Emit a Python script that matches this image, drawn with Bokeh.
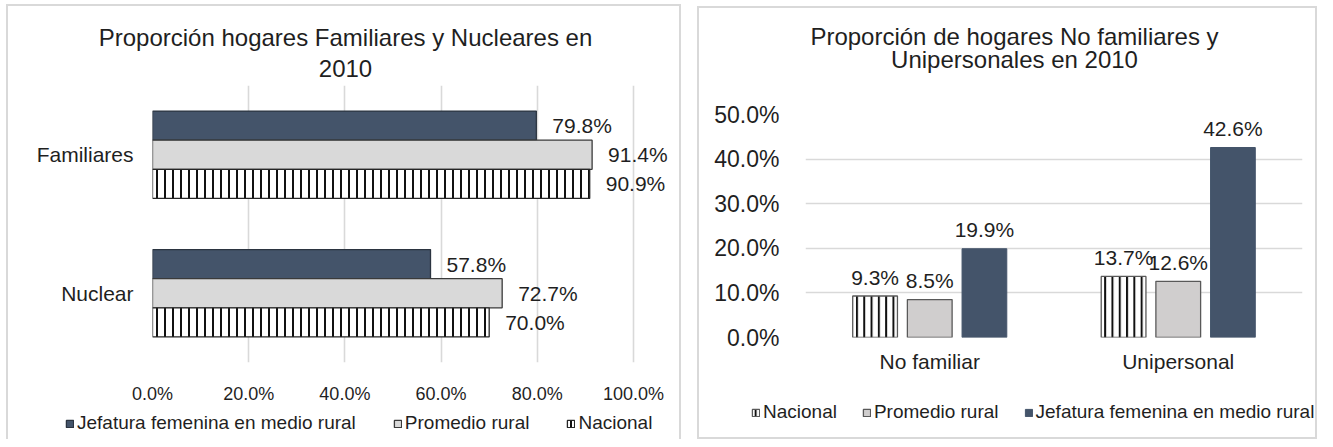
from bokeh.plotting import figure
from bokeh.models import (FactorRange, Range1d, ColumnDataSource, Legend, LegendItem,
                          Label, FixedTicker, CustomJSTickFormatter, Spacer)
from bokeh.transform import dodge
from bokeh.core.properties import value
from bokeh.layouts import row, column
from bokeh.embed import file_html
from bokeh.resources import INLINE

FONT = "Liberation Sans"
TXT = "#1F1F1F"
DARK = "#44546A"
GRID = "#D9D9D9"
BORDER = "2px solid #D9D9D9"

# ---------------- data: left chart ----------------
left_title_1 = "Proporción hogares Familiares y Nucleares en"
left_title_2 = "2010"
left_cats = ["Familiares", "Nuclear"]
left_jefatura = [79.8, 57.8]
left_promedio = [91.4, 72.7]
left_nacional = [90.9, 70.0]
left_ticks = [0, 20, 40, 60, 80, 100]

# ---------------- data: right chart ----------------
right_title_1 = "Proporción de hogares No familiares y"
right_title_2 = "Unipersonales en 2010"
right_cats = ["No familiar", "Unipersonal"]
right_nacional = [9.3, 13.7]
right_promedio = [8.5, 12.6]
right_jefatura = [19.9, 42.6]
right_ticks = [0, 10, 20, 30, 40, 50]

series_names = ["Jefatura femenina en medio rural", "Promedio rural", "Nacional"]

STYLE_J1 = dict(fill_color=DARK, line_color="#2B3440", line_width=1.3)
STYLE_P1 = dict(fill_color="#D9D9D9", line_color="#3A3A3A", line_width=1.3)
STYLE_N1 = dict(fill_color="white", line_color="#262626", line_width=1.3,
                hatch_pattern="|", hatch_color="#111111", hatch_scale=8, hatch_weight=2)
STYLE_N2 = dict(fill_color="white", line_color="#595959", line_width=1.3,
                hatch_pattern="|", hatch_color="#111111", hatch_scale=7.3, hatch_weight=2)
STYLE_P2 = dict(fill_color="#D0CECE", line_color="#595959", line_width=1.3)
STYLE_J2 = dict(fill_color=DARK, line_color=DARK, line_width=1)

pct = lambda vals: [f"{v:.1f}%" for v in vals]
fmt = CustomJSTickFormatter(code="return tick.toFixed(1) + '%';")


def bare_figure(width, height, **kw):
    f = figure(width=width, height=height, toolbar_location=None, output_backend="svg",
               min_border=0, frame_align=False, title=None,
               x_axis_location=None, y_axis_location=None, **kw)
    f.outline_line_color = None
    f.grid.grid_line_color = None
    return f


def title_figure(width, height, lines, cx, ys, css):
    tf = bare_figure(width, height, x_range=Range1d(0, 1), y_range=Range1d(0, 1))
    for text, y in zip(lines, ys):
        tf.add_layout(Label(x=cx, y=y, x_units="screen", y_units="screen", text=text,
                            text_align="center", text_baseline="middle", text_font=FONT,
                            text_font_size="24px", text_color=TXT))
    tf.styles = css
    return tf


def legend_figure(width, height, names, styles, src, cats, cols, loc, spacing, css):
    lf = bare_figure(width, height, x_range=FactorRange(factors=cats), y_range=Range1d(-2, -1))
    items = []
    for name, st, col in zip(names, styles, cols):
        r = lf.vbar(x="cat", top=col, bottom=0, width=0.1, source=src, **st)
        r.visible = False  # only provides the legend swatch style
        items.append(LegendItem(label=name, renderers=[r]))
    leg = Legend(items=items, orientation="horizontal", location=loc, glyph_width=9,
                 glyph_height=9, label_standoff=3, spacing=spacing, padding=0, margin=0,
                 border_line_color=None, background_fill_alpha=0, label_text_font=FONT,
                 label_text_font_size="19px", label_text_color=TXT,
                 inactive_fill_alpha=0)
    lf.add_layout(leg, "center")
    lf.styles = css
    return lf


def style_axis(ax, size, standoff):
    ax.axis_line_color = None
    ax.major_tick_line_color = None
    ax.minor_tick_line_color = None
    ax.major_label_text_font = FONT
    ax.major_label_text_font_size = size
    ax.major_label_text_color = TXT
    ax.major_label_standoff = standoff


# ================= LEFT =================
LW = 675
src1 = ColumnDataSource(dict(cat=left_cats, jef=left_jefatura, pro=left_promedio, nac=left_nacional,
                             jef_t=pct(left_jefatura), pro_t=pct(left_promedio), nac_t=pct(left_nacional)))
t1 = title_figure(LW, 76, [left_title_1, left_title_2], 337, [45.5, 14.5],
                  {"border-left": BORDER, "border-top": BORDER, "border-right": BORDER})

p1 = figure(width=LW, height=326, title=None, frame_align=False,
            y_range=FactorRange(factors=left_cats[::-1], range_padding=0, factor_padding=0),
            x_range=Range1d(0, 110.4), output_backend="svg", toolbar_location=None,
            min_border_left=144, min_border_right=0, min_border_top=5, min_border_bottom=37)
p1.styles = {"border-left": BORDER, "border-right": BORDER}
p1.outline_line_color = None

H1 = 0.21
p1.hbar(y=dodge("cat", H1, range=p1.y_range), left=0, right="jef", height=H1, source=src1, **STYLE_J1)
p1.hbar(y=dodge("cat", 0, range=p1.y_range), left=0, right="pro", height=H1, source=src1, **STYLE_P1)
p1.hbar(y=dodge("cat", -H1, range=p1.y_range), left=0, right="nac", height=H1, source=src1, **STYLE_N1)
for col, off in (("jef", H1), ("pro", 0), ("nac", -H1)):
    p1.text(x=col, y=dodge("cat", off, range=p1.y_range), text=col + "_t", source=src1,
            x_offset=16, text_align="left", text_baseline="middle",
            text_font=value(FONT), text_font_size=value("21px"), text_color=TXT)

xa = p1.xaxis[0]
xa.ticker = FixedTicker(ticks=left_ticks)
xa.formatter = fmt
style_axis(xa, "18px", 15)
style_axis(p1.yaxis[0], "21px", 13)
p1.xgrid.grid_line_color = GRID
p1.xgrid.grid_line_width = 1.6
p1.ygrid.grid_line_color = None

l1 = legend_figure(LW, 33, series_names, [STYLE_J1, STYLE_P1, STYLE_N1], src1, left_cats,
                   ["jef", "pro", "nac"], (57, 5), 37,
                   {"border-left": BORDER, "border-right": BORDER})

# ================= RIGHT =================
RW = 620
src2 = ColumnDataSource(dict(cat=right_cats, nac=right_nacional, pro=right_promedio, jef=right_jefatura,
                             nac_t=pct(right_nacional), pro_t=pct(right_promedio), jef_t=pct(right_jefatura)))
t2 = title_figure(RW, 84, [right_title_1, right_title_2], 315, [56, 33],
                  {"border-left": BORDER, "border-top": BORDER, "border-right": BORDER})

p2 = figure(width=RW, height=290, title=None, frame_align=False,
            x_range=FactorRange(factors=right_cats, range_padding=0, factor_padding=0),
            y_range=Range1d(0, 50), output_backend="svg", toolbar_location=None,
            min_border_left=106, min_border_right=17, min_border_top=24, min_border_bottom=43)
p2.styles = {"border-left": BORDER, "border-right": BORDER}
p2.outline_line_color = None

BW2 = 0.18
D2 = 0.22
p2.vbar(x=dodge("cat", -D2, range=p2.x_range), bottom=0, top="nac", width=BW2, source=src2, **STYLE_N2)
p2.vbar(x=dodge("cat", 0, range=p2.x_range), bottom=0, top="pro", width=BW2, source=src2, **STYLE_P2)
p2.vbar(x=dodge("cat", D2, range=p2.x_range), bottom=0, top="jef", width=BW2, source=src2, **STYLE_J2)
for col, off in (("nac", -D2), ("pro", 0), ("jef", D2)):
    p2.text(x=dodge("cat", off, range=p2.x_range), y=col, text=col + "_t", source=src2,
            y_offset=-19, text_align="center", text_baseline="middle",
            text_font=value(FONT), text_font_size=value("21px"), text_color=TXT)

ya2 = p2.yaxis[0]
ya2.ticker = FixedTicker(ticks=right_ticks)
ya2.formatter = fmt
style_axis(ya2, "23px", 20)
style_axis(p2.xaxis[0], "21px", 6)
p2.ygrid.grid_line_color = GRID
p2.ygrid.grid_line_width = 1.6
p2.xgrid.grid_line_color = None

l2 = legend_figure(RW, 59, [series_names[2], series_names[1], series_names[0]],
                   [STYLE_N2, STYLE_P2, STYLE_J2], src2, right_cats, ["nac", "pro", "jef"],
                   (52, 16), 25,
                   {"border-left": BORDER, "border-right": BORDER, "border-bottom": BORDER})

left_col = column(Spacer(width=LW, height=4), t1, p1, l1, spacing=0)
right_col = column(Spacer(width=RW, height=6), t2, p2, l2, spacing=0)
layout = row(Spacer(width=6, height=10), left_col, Spacer(width=16, height=10), right_col, spacing=0)
open("out.html", "w").write(file_html(layout, INLINE))
